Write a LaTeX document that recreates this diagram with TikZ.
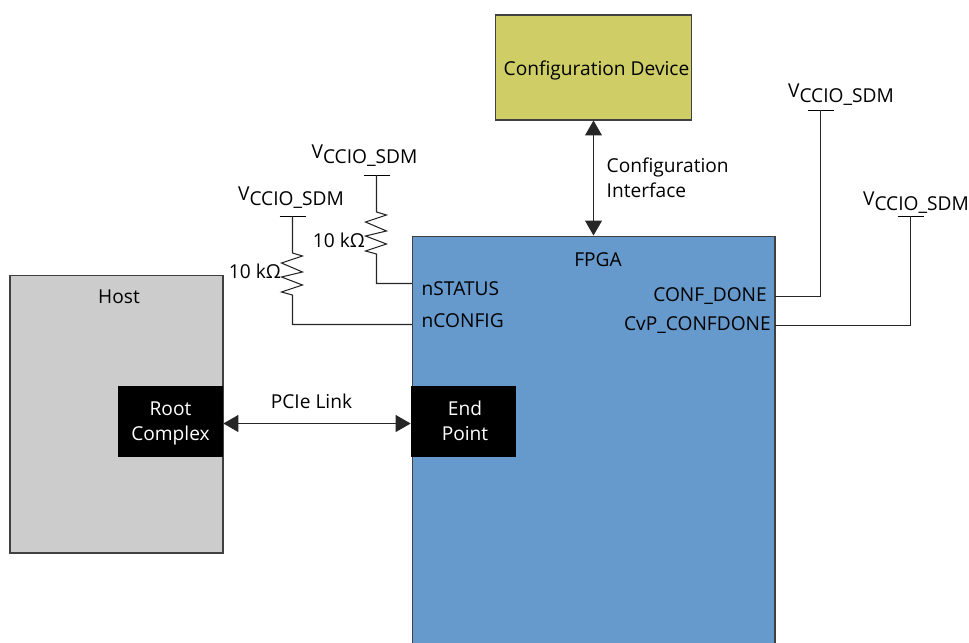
\documentclass[tikz,border=0pt]{standalone}
\usepackage{fontspec}
\setmainfont{Open Sans}
\usetikzlibrary{arrows.meta,positioning}
\definecolor{fpgablue}{HTML}{6699CC}
\definecolor{deviceolive}{HTML}{CFCD65}
\definecolor{hostgray}{HTML}{CCCCCC}
\newcommand{\vccsdm}{V\raisebox{-0.45ex}{CCIO\_SDM}}

\begin{document}
\begin{tikzpicture}[
    x=0.02cm,y=-0.02cm,
    every node/.style={font=\fontsize{10.9}{14.2}\selectfont},
    block/.style={draw=black!75,line width=0.6pt,rectangle,inner sep=0pt},
    black block/.style={fill=black,rectangle,inner sep=0pt,
        minimum width=2.1cm,minimum height=1.42cm},
    black label/.style={text=white,align=center},
    wire/.style={draw=black!85,line width=0.6pt},
    link/.style={wire,{Triangle[length=8.5pt,width=9.6pt]}-{Triangle[length=8.5pt,width=9.6pt]}},
    rail/.style={draw=black,line width=0.5pt}
]
    \useasboundingbox (0,0) rectangle (969,642);

    \node[block,fill=deviceolive,minimum width=3.92cm,minimum height=2.1cm] (device) at (593.5,67.5) {};
    \node (device-label) at (596.5,70) {Configuration Device};
    \node[block,fill=fpgablue,minimum width=7.26cm,minimum height=8.48cm] (fpga) at (593.5,448) {};
    \node (fpga-label) at (598,259.5) {FPGA};
    \node[block,fill=hostgray,minimum width=4.26cm,minimum height=5.56cm] (host) at (116.5,414) {};
    \node (host-label) at (119,297) {Host};
    \node[black block] (root) at (170.5,421.5) {};
    \node[black label] (root-label) at (170.5,423.5) {Root\\Complex};
    \node[black block] (endpoint) at (463.5,421.5) {};
    \node[black label] (endpoint-label) at (465,421) {End\\Point};

    \draw[link] ([yshift=-0.04cm]root.east) -- ([yshift=-0.04cm]endpoint.west);
    \node (pcie-label) at (311.5,401.5) {PCIe Link};
    \draw[link] (device.south) -- (fpga.north);
    \node[anchor=west,align=left] (interface-label) at (600.5,178) {Configuration\\Interface};

    \node[anchor=west] (nstatus) at (415.5,288.5) {nSTATUS};
    \node[anchor=west] (nconfig) at (415.5,321) {nCONFIG};
    \node[anchor=east] (confdone) at (773,296.5) {CONF\_DONE};
    \node[anchor=east] (cvp) at (777,325.5) {CvP\_CONFDONE};

    \coordinate (nstatus-pin) at (412,283.5);
    \coordinate (nconfig-pin) at (412,324.5);
    \coordinate (confdone-pin) at (775,296.5);
    \coordinate (cvp-pin) at (775,325.5);

    \foreach \name/\x/\y in {v1/292.5/216,v2/376.5/175,v3/820.5/110,v4/910.5/216} {
        \coordinate (\name) at (\x,\y);
        \draw[rail] ([xshift=-13*0.02cm]\name) -- ([xshift=13*0.02cm]\name);
    }
    \node (v1-label) at (291,197.5) {\vccsdm};
    \node (v2-label) at (364.5,155.5) {\vccsdm};
    \node (v3-label) at (841,94.5) {\vccsdm};
    \node (v4-label) at (916,202.5) {\vccsdm};

    \foreach \name/\pin in {v1/nconfig-pin,v2/nstatus-pin} {
        \draw[wire] (\name) -- ++(0,37) -- ++(10,3) -- ++(-21,7) -- ++(21,9)
            -- ++(-21,5) -- ++(21,8) -- ++(-21,7) -- ++(11,3) |- (\pin);
    }
    \draw[wire] (confdone-pin) -| (v3);
    \draw[wire] (cvp-pin) -| (v4);

    \node[anchor=east] (r1-label) at (287,271.5) {10 kΩ};
    \node[anchor=east] (r2-label) at (371,240.5) {10 kΩ};
\end{tikzpicture}
\end{document}
